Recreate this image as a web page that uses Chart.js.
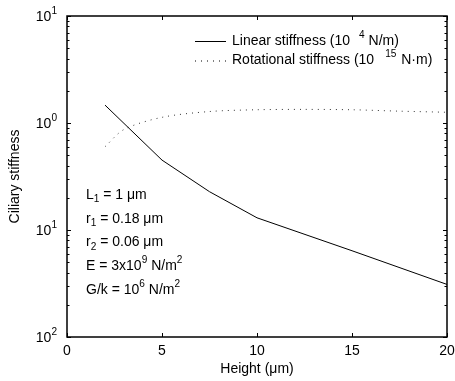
<!DOCTYPE html>
<html>
<head>
<meta charset="utf-8">
<script src="https://cdn.jsdelivr.net/npm/chart.js@4"></script>
<style>
    body { margin: 0; background: #fff; }
</style>
</head>
<body>
<canvas id="stiffnessChart" width="455" height="381"></canvas>
<script>
// values
const linHeights = [2, 5, 7.5, 10, 15, 20];
const linearStiffness = [1.47, 0.45, 0.228, 0.13, 0.064, 0.031];
const rotHeights = [2, 3, 5, 7.5, 10, 12.5, 15, 17.5, 20];
const rotationalStiffness = [0.6, 0.87, 1.13, 1.28, 1.33, 1.34, 1.33, 1.29, 1.26];

const xTicks = [0, 5, 10, 15, 20];
const yTicks = [10, 1, 0.1, 0.01];
const yTickExp = ["1", "0", "1", "2"]; // printed like this in the original

const FONT = '"Liberation Sans", Arial, Helvetica, sans-serif';

// text runs: [text, "sup" | "sub" | undefined, extra gap before]
const legendItems = [
    { dash: [], parts: [["Linear stiffness (10"], ["4", "sup", 9], [" N/m)"]] },
    { dash: [1, 5], parts: [["Rotational stiffness (10"], ["15", "sup", 11], [" N\u00b7m)", null, 1]] },
];
const notes = [
    [["L"], ["1", "sub"], [" = 1 \u03bcm"]],
    [["r"], ["1", "sub"], [" = 0.18 \u03bcm"]],
    [["r"], ["2", "sub"], [" = 0.06 \u03bcm"]],
    [["E = 3x10"], ["9", "sup"], [" N/m"], ["2", "sup"]],
    [["G/k = 10"], ["6", "sup"], [" N/m"], ["2", "sup"]],
];

function drawRich(ctx, x, y, parts, size, align) {
    const runs = parts.map(([t, kind, gap]) => {
        const s = kind ? size * 0.72 : size;
        ctx.font = s + "px " + FONT;
        return { t, kind, s, gap: gap || 0, w: ctx.measureText(t).width };
    });
    const total = runs.reduce((a, r) => a + r.w + r.gap, 0);
    let cx = align === "right" ? x - total : x;
    ctx.textAlign = "left";
    ctx.textBaseline = "middle";
    runs.forEach((r) => {
        ctx.font = r.s + "px " + FONT;
        let dy = 0;
        if (r.kind === "sup") dy = -size * 0.42;
        if (r.kind === "sub") dy = size * 0.33;
        cx += r.gap;
        ctx.fillText(r.t, cx, y + dy);
        cx += r.w;
    });
}

const framePlugin = {
    id: "frame",
    afterDraw(chart) {
        const { ctx, chartArea: a, scales } = chart;
        const xs = scales.x, ys = scales.y;
        ctx.save();
        ctx.strokeStyle = "#000";
        ctx.fillStyle = "#000";

        // ticks pointing inward
        ctx.lineWidth = 1;
        ctx.beginPath();
        xTicks.forEach((v) => {
            const px = Math.round(xs.getPixelForValue(v)) + 0.5;
            ctx.moveTo(px, a.bottom); ctx.lineTo(px, a.bottom - 4);
            ctx.moveTo(px, a.top); ctx.lineTo(px, a.top + 4);
        });
        for (let d = -2; d <= 1; d++) {
            for (let m = 1; m <= 9; m++) {
                const v = m * Math.pow(10, d);
                if (v > 10.0001) break;
                const py = Math.round(ys.getPixelForValue(v)) + 0.5;
                const len = m === 1 ? 4 : 2.5;
                ctx.moveTo(a.left, py); ctx.lineTo(a.left + len, py);
                ctx.moveTo(a.right, py); ctx.lineTo(a.right - len, py);
            }
        }
        ctx.stroke();

        // box
        ctx.lineWidth = 1.5;
        ctx.strokeRect(a.left, a.top, a.right - a.left, a.bottom - a.top);

        // tick labels
        ctx.font = "14px " + FONT;
        ctx.textAlign = "center";
        ctx.textBaseline = "middle";
        xTicks.forEach((v) => {
            ctx.fillText(String(v), xs.getPixelForValue(v), a.bottom + 14);
        });
        yTicks.forEach((v, i) => {
            drawRich(ctx, a.left - 10, ys.getPixelForValue(v) + 1, [["10"], [yTickExp[i], "sup"]], 14, "right");
        });

        // axis titles
        ctx.font = "14px " + FONT;
        ctx.textAlign = "center";
        ctx.fillText("Height (\u03bcm)", (a.left + a.right) / 2, 369);
        ctx.save();
        ctx.translate(15, (a.top + a.bottom) / 2);
        ctx.rotate(-Math.PI / 2);
        ctx.fillText("Ciliary stiffness", 0, 0);
        ctx.restore();

        // legend
        legendItems.forEach((item, i) => {
            const y = 41 + i * 19.5;
            ctx.lineWidth = 1;
            ctx.setLineDash(item.dash);
            ctx.beginPath();
            ctx.moveTo(195, y + 0.5); ctx.lineTo(226, y + 0.5);
            ctx.stroke();
            ctx.setLineDash([]);
            drawRich(ctx, 232, y, item.parts, 14);
        });

        // parameter notes
        notes.forEach((parts, i) => {
            drawRich(ctx, 86, 195 + i * 23.7, parts, 14);
        });
        ctx.restore();
    },
};

new Chart(document.getElementById("stiffnessChart").getContext("2d"), {
    type: "line",
    data: {
        datasets: [
            {
                label: "Linear stiffness",
                data: linHeights.map((h, i) => ({ x: h, y: linearStiffness[i] })),
                borderColor: "#000",
                borderWidth: 1,
                pointRadius: 0,
                tension: 0,
            },
            {
                label: "Rotational stiffness",
                data: rotHeights.map((h, i) => ({ x: h, y: rotationalStiffness[i] })),
                borderColor: "#333",
                borderWidth: 1,
                borderDash: [1, 5],
                pointRadius: 0,
                tension: 0.3,
            },
        ],
    },
    options: {
        responsive: false,
        animation: false,
        layout: { padding: { left: 67, right: 8, top: 16, bottom: 44 } },
        plugins: {
            legend: { display: false },
            tooltip: { enabled: false },
        },
        scales: {
            x: { type: "linear", min: 0, max: 20, display: false },
            y: { type: "logarithmic", min: 0.01, max: 10, display: false },
        },
    },
    plugins: [framePlugin],
});
</script>
</body>
</html>
